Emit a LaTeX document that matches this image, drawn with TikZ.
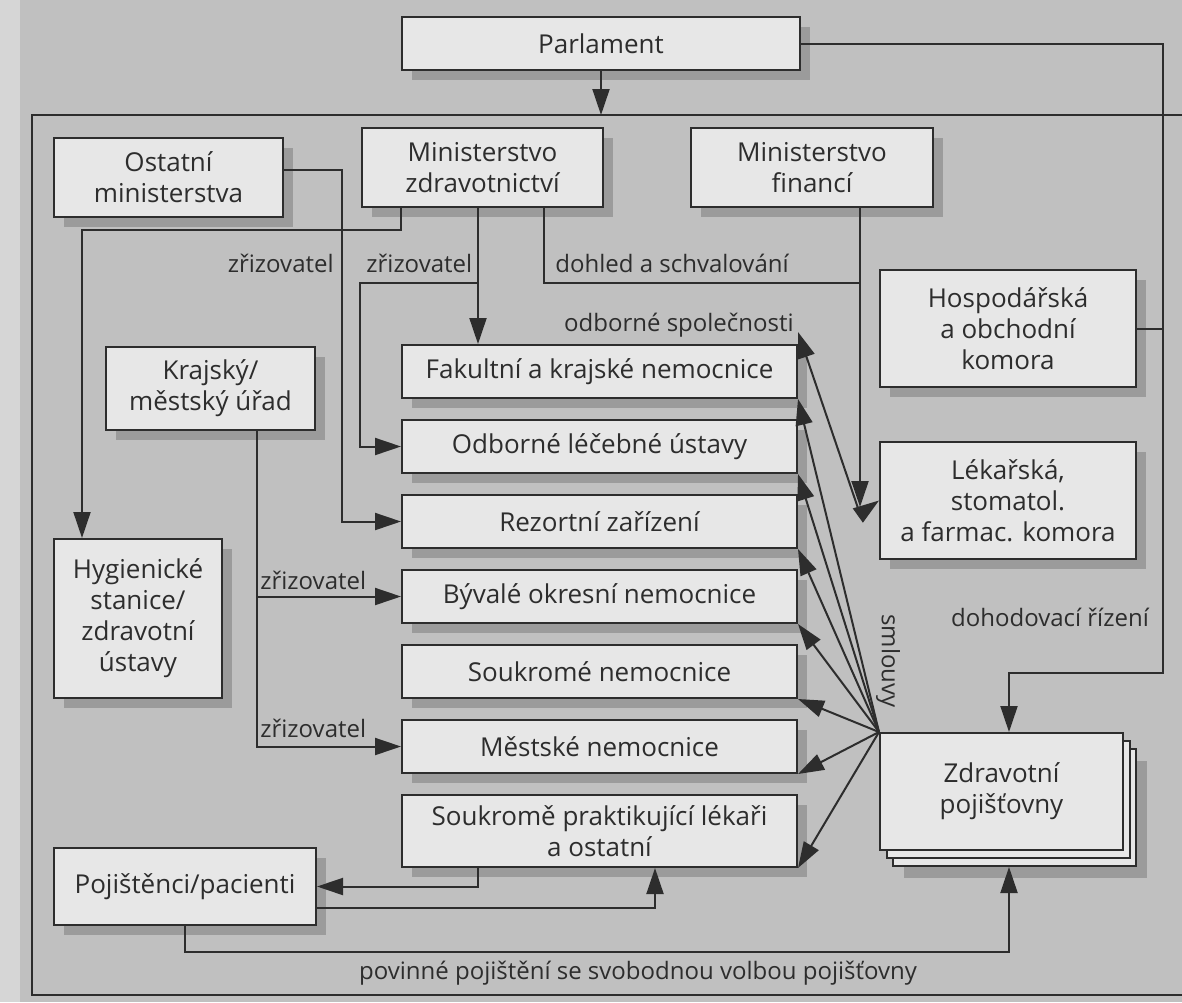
\documentclass[tikz,border=0pt]{standalone}
\usepackage{fontspec}
\setmainfont{Open Sans}
\usetikzlibrary{arrows.meta,shadows}
\definecolor{bg}{RGB}{192,192,192}
\definecolor{pagec}{RGB}{214,214,214}
\definecolor{bx}{RGB}{231,231,231}
\definecolor{sh}{RGB}{155,155,155}
\definecolor{ln}{RGB}{45,45,45}

\begin{document}
\begin{tikzpicture}[x=0.5pt,y=-0.5pt,
  boxbase/.style={draw=ln,fill=bx,line width=1pt,align=center,inner sep=2pt,text=ln,
    font=\fontsize{13}{15.5}\selectfont},
  box/.style={boxbase,drop shadow={shadow xshift=5pt,shadow yshift=-5pt,fill=sh,opacity=1}},
  lbl/.style={font=\fontsize{12}{14}\selectfont,text=ln,inner sep=1pt},
  line/.style={draw=ln,line width=1pt},
  arr/.style={line,-{Triangle[length=13pt,width=8.5pt]}},
  arr2/.style={line,{Triangle[length=13pt,width=8.5pt]}-{Triangle[length=13pt,width=8.5pt]}}]
\useasboundingbox (0,0) rectangle (1182,1002);
\fill[bg] (0,0) rectangle (1182,1002);
\fill[pagec] (0,0) rectangle (20,1002);
\draw[line] (1182,115) -- (32,115) -- (32,995) -- (1182,995);

\node[box, minimum width=199pt, minimum height=26.5pt] (1) at (601,43.5) {Parlament};
\node[box, minimum width=114.5pt, minimum height=39.5pt] (2) at (168.5,177.5) {Ostatní\\ministerstva};
\node[box, minimum width=120.5pt, minimum height=39.5pt] (3) at (482.5,167.5) {Ministerstvo\\zdravotnictví};
\node[box, minimum width=121pt, minimum height=39.5pt] (4) at (812,167.5) {Ministerstvo\\financí};
\node[box, minimum width=128pt, minimum height=58.5pt] (5) at (1008,328.5) {Hospodářská\\a obchodní\\komora};
\node[box, minimum width=128pt, minimum height=58.5pt] (6) at (1008,500.5) {Lékařská,\\stomatol.\\a farmac. komora};
\node[box, minimum width=104.5pt, minimum height=41.5pt] (7) at (210.5,388.5) {Krajský/\\městský úřad};
\node[box, minimum width=84pt, minimum height=79.5pt] (8) at (138,618.5) {Hygienické\\stanice/\\zdravotní\\ústavy};
\node[box, minimum width=197.5pt, minimum height=26.5pt] (9) at (599.5,371.5) {Fakultní a krajské nemocnice};
\node[box, minimum width=197.5pt, minimum height=26.5pt] (10) at (599.5,446.5) {Odborné léčebné ústavy};
\node[box, minimum width=197.5pt, minimum height=26.5pt] (11) at (599.5,521.5) {Rezortní zařízení};
\node[box, minimum width=197.5pt, minimum height=26.5pt] (12) at (599.5,596.5) {Bývalé okresní nemocnice};
\node[box, minimum width=197.5pt, minimum height=26.5pt] (13) at (599.5,671.5) {Soukromé nemocnice};
\node[box, minimum width=197.5pt, minimum height=26.5pt] (14) at (599.5,746.5) {Městské nemocnice};
\node[box, minimum width=197.5pt, minimum height=36pt] (15) at (599.5,831) {Soukromě praktikující lékaři\\a ostatní};
\node[box, minimum width=131pt, minimum height=38.5pt] (16) at (185,886.5) {Pojištěnci/pacienti};
\node[boxbase, minimum width=121.5pt, minimum height=58.5pt,
  drop shadow={shadow xshift=12pt,shadow yshift=-14pt,fill=sh,opacity=1},
  copy shadow={shadow xshift=6.5pt,shadow yshift=-8pt,fill=bx,draw=ln,line width=1pt,opacity=1},
  copy shadow={shadow xshift=3.25pt,shadow yshift=-4pt,fill=bx,draw=ln,line width=1pt,opacity=1}]
  (17) at (1001.5,791.5) {Zdravotní\\pojišťovny};

\node[lbl, anchor=east] (l1) at (336,263) {zřizovatel};
\node[lbl, anchor=west] (l2) at (364,263) {zřizovatel};
\node[lbl, anchor=west] (l3) at (553,263) {dohled a schvalování};
\node[lbl, anchor=east] (l4) at (796,325) {odborné společnosti};
\node[lbl, anchor=west] (l5) at (258,580) {zřizovatel};
\node[lbl, anchor=west] (l6) at (258,728) {zřizovatel};
\node[lbl, rotate=-90] (l7) at (888,661) {smlouvy};
\node[lbl] (l8) at (1050,617) {dohodovací řízení};
\node[lbl] (l9) at (638,973) {povinné pojištění se svobodnou volbou pojišťovny};

\coordinate (ft) at (601,115);
\draw[arr] (1.south) -- (1.south |- ft);
\coordinate (r) at (1163,673);
\coordinate (d) at (1009,673);
\draw[arr] (1.east) -| (r) -- (d) -- (d |- 17.north);
\draw[line] (5.east) -- (5.east -| r);

\coordinate (a) at (342,170);
\draw[arr] (2.east |- a) -- (a) |- (11.west);
\coordinate (h) at (82,230);
\draw[arr] ([xshift=20pt]3.south west) |- (h) -- (h |- 8.north);
\coordinate (m) at (478,283);
\coordinate (b) at (360,283);
\draw[arr] (3.south -| m) -- (m |- 9.north);
\draw[arr] (m) -- (b) |- (10.west);
\coordinate (c) at (544,283);
\coordinate (j) at (860,514);
\draw[line] (3.south -| c) -- (c) -- (c -| j);
\draw[arr] (4.south -| j) -- ([yshift=3.5pt]j);
\draw[arr2] ([yshift=6pt]9.north east) -- (j) -- (6.west);

\coordinate (k) at (257,595);
\draw[arr] (7.south -| k) |- (14.west);
\draw[arr] (k |- 12.west) -- (12.west);

\foreach \n in {9,...,15}
  \draw[arr] (17.north west) -- (\n.south east);

\coordinate (p) at (478,887);
\draw[arr] (15.south -| p) |- (16.east);
\coordinate (q) at (655,908);
\draw[arr] (16.east |- q) -- (q) -- (q |- 15.south);
\coordinate (s) at (1009,952);
\coordinate (z) at (1009,867);
\draw[arr] (16.south) |- (s) -- (z);
\end{tikzpicture}
\end{document}
